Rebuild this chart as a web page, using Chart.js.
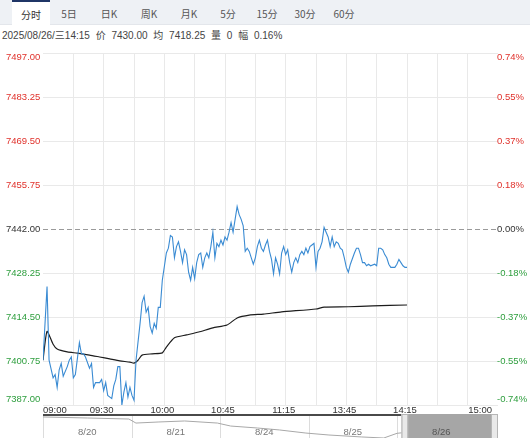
<!DOCTYPE html>
<html>
<head>
<meta charset="utf-8">
<script src="https://cdn.jsdelivr.net/npm/chart.js@4.4.0/dist/chart.umd.min.js"></script>
<style>
html,body{margin:0;padding:0;background:#fff;width:530px;height:438px;overflow:hidden;
  font-family:"Liberation Sans","Noto Sans CJK SC",Arial,sans-serif;}
#tabs{position:absolute;left:0;top:0;width:530px;height:24px;background:#eef1f5;border-bottom:1px solid #e3e6eb;}
.tab{position:absolute;top:0;height:24px;line-height:27px;font-size:10px;color:#555;text-align:center;
  font-family:"Noto Sans CJK SC","Liberation Sans",sans-serif;}
.tab.sel{background:#fff;border-top:2px solid #1f3566;height:23px;line-height:25px;color:#333;}
#info{position:absolute;left:2px;top:29px;font-size:10px;line-height:14px;color:#444;white-space:pre;word-spacing:3px;
  font-family:"Liberation Sans","Noto Sans CJK SC",sans-serif;}
#main{position:absolute;left:0;top:40px;}
#nav{position:absolute;left:0;top:414px;}
</style>
</head>
<body>
<div id="tabs"></div>
<div id="info"></div>
<canvas id="main" width="530" height="374"></canvas>
<canvas id="nav" width="530" height="24"></canvas>
<script>
// ---------- data ----------
const tabLabels = ['分时','5日','日K','周K','月K','5分','15分','30分','60分'];
const infoText = '2025/08/26/三14:15 价 7430.00 均 7418.25 量 0 幅 0.16%';

const prevClose = 7442.00;
const priceTicks = [7497.00, 7483.25, 7469.50, 7455.75, 7442.00, 7428.25, 7414.50, 7400.75, 7387.00];
const pctTicks   = ['0.74%', '0.55%', '0.37%', '0.18%', '0.00%', '-0.18%', '-0.37%', '-0.55%', '-0.74%'];

// trading minutes from 09:00 (session 09:00-10:15, 10:30-11:30, 13:30-15:00 = 225 min)
const gridMinutes = [0,15,30,45,60,75,90,105,120,135,150,165,180,195,210,225];
const timeTickMinutes = [0, 30, 60, 90, 120, 150, 180, 225];
const timeTickLabels  = ['09:00','09:30','10:00','10:45','11:15','13:45','14:15','15:00'];

const priceMinutes = [
  0,2,3,5,6,7,8,9,10,12,
  13,14,15,16,18,19,20,21,23,24,
  25,26,28,29,30,31,32,34,35,36,
  37,38,39,40,41,42,43,44,45,46,
  48,49,50,51,52,53,54,55,56,57,
  58,59,61,62,63,64,65,66,67,68,
  69,70,71,72,73,74,75,76,77,78,
  79,80,81,82,83,84,85,86,87,88,
  89,90,91,92,93,94,95,96,97,98,
  99,100,101,102,103,104,105,106,107,108,
  109,110,111,112,113,114,115,116,117,118,
  119,120,121,122,123,124,125,126,127,128,
  129,130,131,132,133,134,135,136,137,138,
  139,140,141,142,143,144,145,146,147,148,
  149,150,151,152,154,155,156,157,158,159,
  160,161,162,164,165,166,167,168,169,170,
  171,172,174,175,176,177,178,179,180
];
const priceValues = [
  7401,7424,7401,7395.5,7396.5,7392.5,7398,7400,7396,7399,
  7401,7402,7395.5,7396.5,7406.5,7403,7403,7402,7398.5,7400,
  7392.5,7394,7394,7395,7391.5,7394,7390,7389,7393,7395,
  7399,7399,7387,7391,7394,7389.5,7392.5,7390,7388.5,7401,
  7412.5,7419,7421,7416,7417.5,7411.5,7409.5,7412.5,7411,7417.5,
  7417.5,7426,7434.5,7436,7440,7439.5,7433,7436.5,7438,7435,
  7431.5,7435.5,7434,7428.5,7426,7430,7426.5,7431.5,7434,7434.5,
  7430,7433,7434.5,7433,7436.5,7441,7433,7437.5,7436.5,7438.5,
  7437,7439.5,7438.5,7441,7444,7441,7445,7449,7446.5,7445,
  7443,7435,7436,7435,7433,7431,7433,7436.5,7438.5,7436,
  7435,7437,7438.5,7435,7432.5,7428,7433,7431,7428,7434.5,
  7436.5,7434,7435.5,7431.5,7428.5,7431.5,7433,7431.5,7434,7435,
  7434,7436,7434.5,7436.5,7437,7437.5,7430,7435,7436,7438,
  7442.5,7441,7439.5,7436.5,7439.5,7436.5,7438,7437.5,7436,7435.5,
  7433,7430,7428.5,7431,7434.5,7436,7436,7434,7431.5,7431.5,
  7430.5,7431,7430.5,7431,7430.5,7436,7436,7435.5,7434,7433,
  7431,7430,7430,7431,7432.5,7431.5,7430.5,7430,7430
];

const avgMinutes = [0,2,5,7,12,17,23,28,33,38,43,45,47,49,54,59,61,65,71,77,84,91,96,102,109,118,135,139,151,163,180];
const avgValues  = [7401,7410,7406,7404.5,7403.6,7403.2,7402.6,7402,7401.4,7400.8,7400.4,7400.1,7401,7402.6,7403,7403.3,
                    7405.1,7408,7408.9,7409.8,7411.1,7412,7414.2,7415.1,7415.4,7416.1,7417,7417.6,7417.7,7418,7418.25];

// navigator (5 trading days, x in days)
const navDays   = ['8/20','8/21','8/24','8/25','8/26'];
const navX      = [0, 0.5, 0.97, 1.05, 1.3, 1.6, 1.97, 2.12, 2.42, 2.67, 2.97, 3.23, 3.6, 3.85, 4.0, 4.3, 4.6, 4.8];
const navValues = [7543, 7534, 7525, 7490, 7499, 7508, 7490, 7464, 7447, 7430, 7403, 7386, 7369, 7360, 7401, 7425, 7436, 7430];
const navWindow = [4.05, 5.14];

// ---------- styles ----------
const RED = '#e0312b', GREEN = '#2e9e3e', GRID = '#e9e9e9';
const NUM_FONT = '9.5px "Liberation Sans", Arial, sans-serif';

// ---------- header ----------
const tabCenters = [31, 69, 109, 149, 189, 228, 267, 305, 344];
const tabsEl = document.getElementById('tabs');
tabLabels.forEach((t, i) => {
  const d = document.createElement('div');
  d.className = 'tab' + (i === 0 ? ' sel' : '');
  const w = 38;
  d.style.left = (tabCenters[i] - w / 2) + 'px';
  d.style.width = w + 'px';
  d.textContent = t;
  tabsEl.appendChild(d);
});
document.getElementById('info').textContent = infoText;

// ---------- main chart ----------
const mainPlugin = {
  id: 'mainPlugin',
  beforeDatasetsDraw(chart) {
    const { ctx, chartArea: a, scales: { y } } = chart;
    const py = Math.round(y.getPixelForValue(prevClose)) + 0.5;
    ctx.save();
    ctx.strokeStyle = '#9a9a9a'; ctx.lineWidth = 1; ctx.setLineDash([5, 3]);
    ctx.beginPath(); ctx.moveTo(a.left, py); ctx.lineTo(a.right, py); ctx.stroke();
    ctx.restore();
  },
  afterDraw(chart) {
    const { ctx, chartArea: a, scales: { x, y } } = chart;
    ctx.save();
    ctx.font = NUM_FONT;
    ctx.textBaseline = 'middle';
    priceTicks.forEach((v, i) => {
      let py = y.getPixelForValue(v);
      if (i === 0) py += 4;
      if (i === priceTicks.length - 1) py -= 6;
      ctx.fillStyle = v > prevClose ? RED : (v < prevClose ? GREEN : '#333');
      ctx.textAlign = 'left';
      ctx.fillText(v.toFixed(2), 6, py);
      ctx.fillText(pctTicks[i], a.right - 1, py);
    });
    ctx.fillStyle = '#333';
    timeTickMinutes.forEach((m, i) => {
      const px = x.getPixelForValue(m);
      let al = 'center', dx = -2;
      if (i === 0) { al = 'left'; dx = 0; }
      if (i === timeTickMinutes.length - 1) { al = 'right'; dx = -6; }
      ctx.textAlign = al;
      ctx.fillText(timeTickLabels[i], px + dx, a.bottom + 5.5);
    });
    ctx.restore();
  }
};

new Chart(document.getElementById('main'), {
  type: 'line',
  data: {
    datasets: [
      { data: priceMinutes.map((m, i) => ({ x: m, y: priceValues[i] })),
        borderColor: '#3a8bd3', borderWidth: 1.1, pointRadius: 0, tension: 0 },
      { data: avgMinutes.map((m, i) => ({ x: m, y: avgValues[i] })),
        borderColor: '#1c1c1c', borderWidth: 1.2, pointRadius: 0, tension: 0.2 }
    ]
  },
  options: {
    responsive: false, animation: false, maintainAspectRatio: false,
    layout: { padding: { left: 43, right: 32, top: 13, bottom: 9 } },
    plugins: { legend: { display: false }, tooltip: { enabled: false } },
    scales: {
      x: {
        type: 'linear', min: 0, max: 225,
        afterBuildTicks: s => { s.ticks = gridMinutes.map(v => ({ value: v })); },
        ticks: { display: false },
        grid: { drawTicks: false, lineWidth: 1,
          color: c => (c.tick && (c.tick.value === 0 || c.tick.value === 225)) ? 'rgba(0,0,0,0)' : GRID },
        border: { display: false }
      },
      y: {
        type: 'linear', min: 7387, max: 7497,
        afterBuildTicks: s => { s.ticks = priceTicks.map(v => ({ value: v })); },
        ticks: { display: false },
        grid: { drawTicks: false, lineWidth: 1,
          color: c => (c.tick && c.tick.value === prevClose) ? 'rgba(0,0,0,0)' : GRID },
        border: { display: false }
      }
    }
  },
  plugins: [mainPlugin]
});

// ---------- navigator ----------
const navPlugin = {
  id: 'navPlugin',
  beforeDatasetsDraw(chart) {
    const { ctx, chartArea: a, scales: { x } } = chart;
    ctx.save();
    ctx.strokeStyle = '#dcdcdc'; ctx.lineWidth = 1;
    ctx.beginPath(); ctx.moveTo(a.left + 0.5, 0); ctx.lineTo(a.left + 0.5, 24); ctx.stroke();
    for (let d = 1; d < navDays.length; d++) {
      const px = Math.round(x.getPixelForValue(d)) + 0.5;
      ctx.beginPath(); ctx.moveTo(px, 2); ctx.lineTo(px, 24); ctx.stroke();
    }
    ctx.font = '9.5px "Liberation Sans", Arial, sans-serif';
    ctx.fillStyle = '#777'; ctx.textAlign = 'center'; ctx.textBaseline = 'middle';
    navDays.forEach((d, i) => { if (i < navDays.length - 1) ctx.fillText(d, x.getPixelForValue(i + 0.5), 18); });
    ctx.restore();
  },
  afterDraw(chart) {
    const { ctx, chartArea: a, scales: { x } } = chart;
    const l = x.getPixelForValue(navWindow[0]);
    const r = x.getPixelForValue(navWindow[1]);
    ctx.save();
    ctx.fillStyle = '#4a4a4a';
    ctx.fillRect(a.left, 0, l - a.left, 2);
    ctx.fillStyle = '#a6a6a6';
    ctx.fillRect(l, 0, r - l, 24);
    ctx.fillStyle = '#e9e9e9';
    ctx.strokeStyle = '#b5b5b5';
    ctx.fillRect(l, 0, 6, 24); ctx.strokeRect(l + 0.5, 0.5, 6, 24);
    ctx.fillRect(r - 6, 0, 6, 24); ctx.strokeRect(r - 6.5, 0.5, 6, 24);
    ctx.font = '9.5px "Liberation Sans", Arial, sans-serif';
    ctx.fillStyle = '#555'; ctx.textAlign = 'center'; ctx.textBaseline = 'middle';
    ctx.fillText(navDays[navDays.length - 1], x.getPixelForValue(4.5), 18);
    ctx.restore();
  }
};

new Chart(document.getElementById('nav'), {
  type: 'line',
  data: { datasets: [{ data: navX.map((v, i) => ({ x: v, y: navValues[i] })),
    borderColor: '#a8a8a8', borderWidth: 1, pointRadius: 0, tension: 0 }] },
  options: {
    responsive: false, animation: false, maintainAspectRatio: false,
    layout: { padding: { left: 43, right: 32, top: 1, bottom: 0 } },
    plugins: { legend: { display: false }, tooltip: { enabled: false } },
    scales: {
      x: { type: 'linear', min: 0, max: navWindow[1], display: false },
      y: { type: 'linear', min: 7360, max: 7560, display: false }
    }
  },
  plugins: [navPlugin]
});
</script>
</body>
</html>
